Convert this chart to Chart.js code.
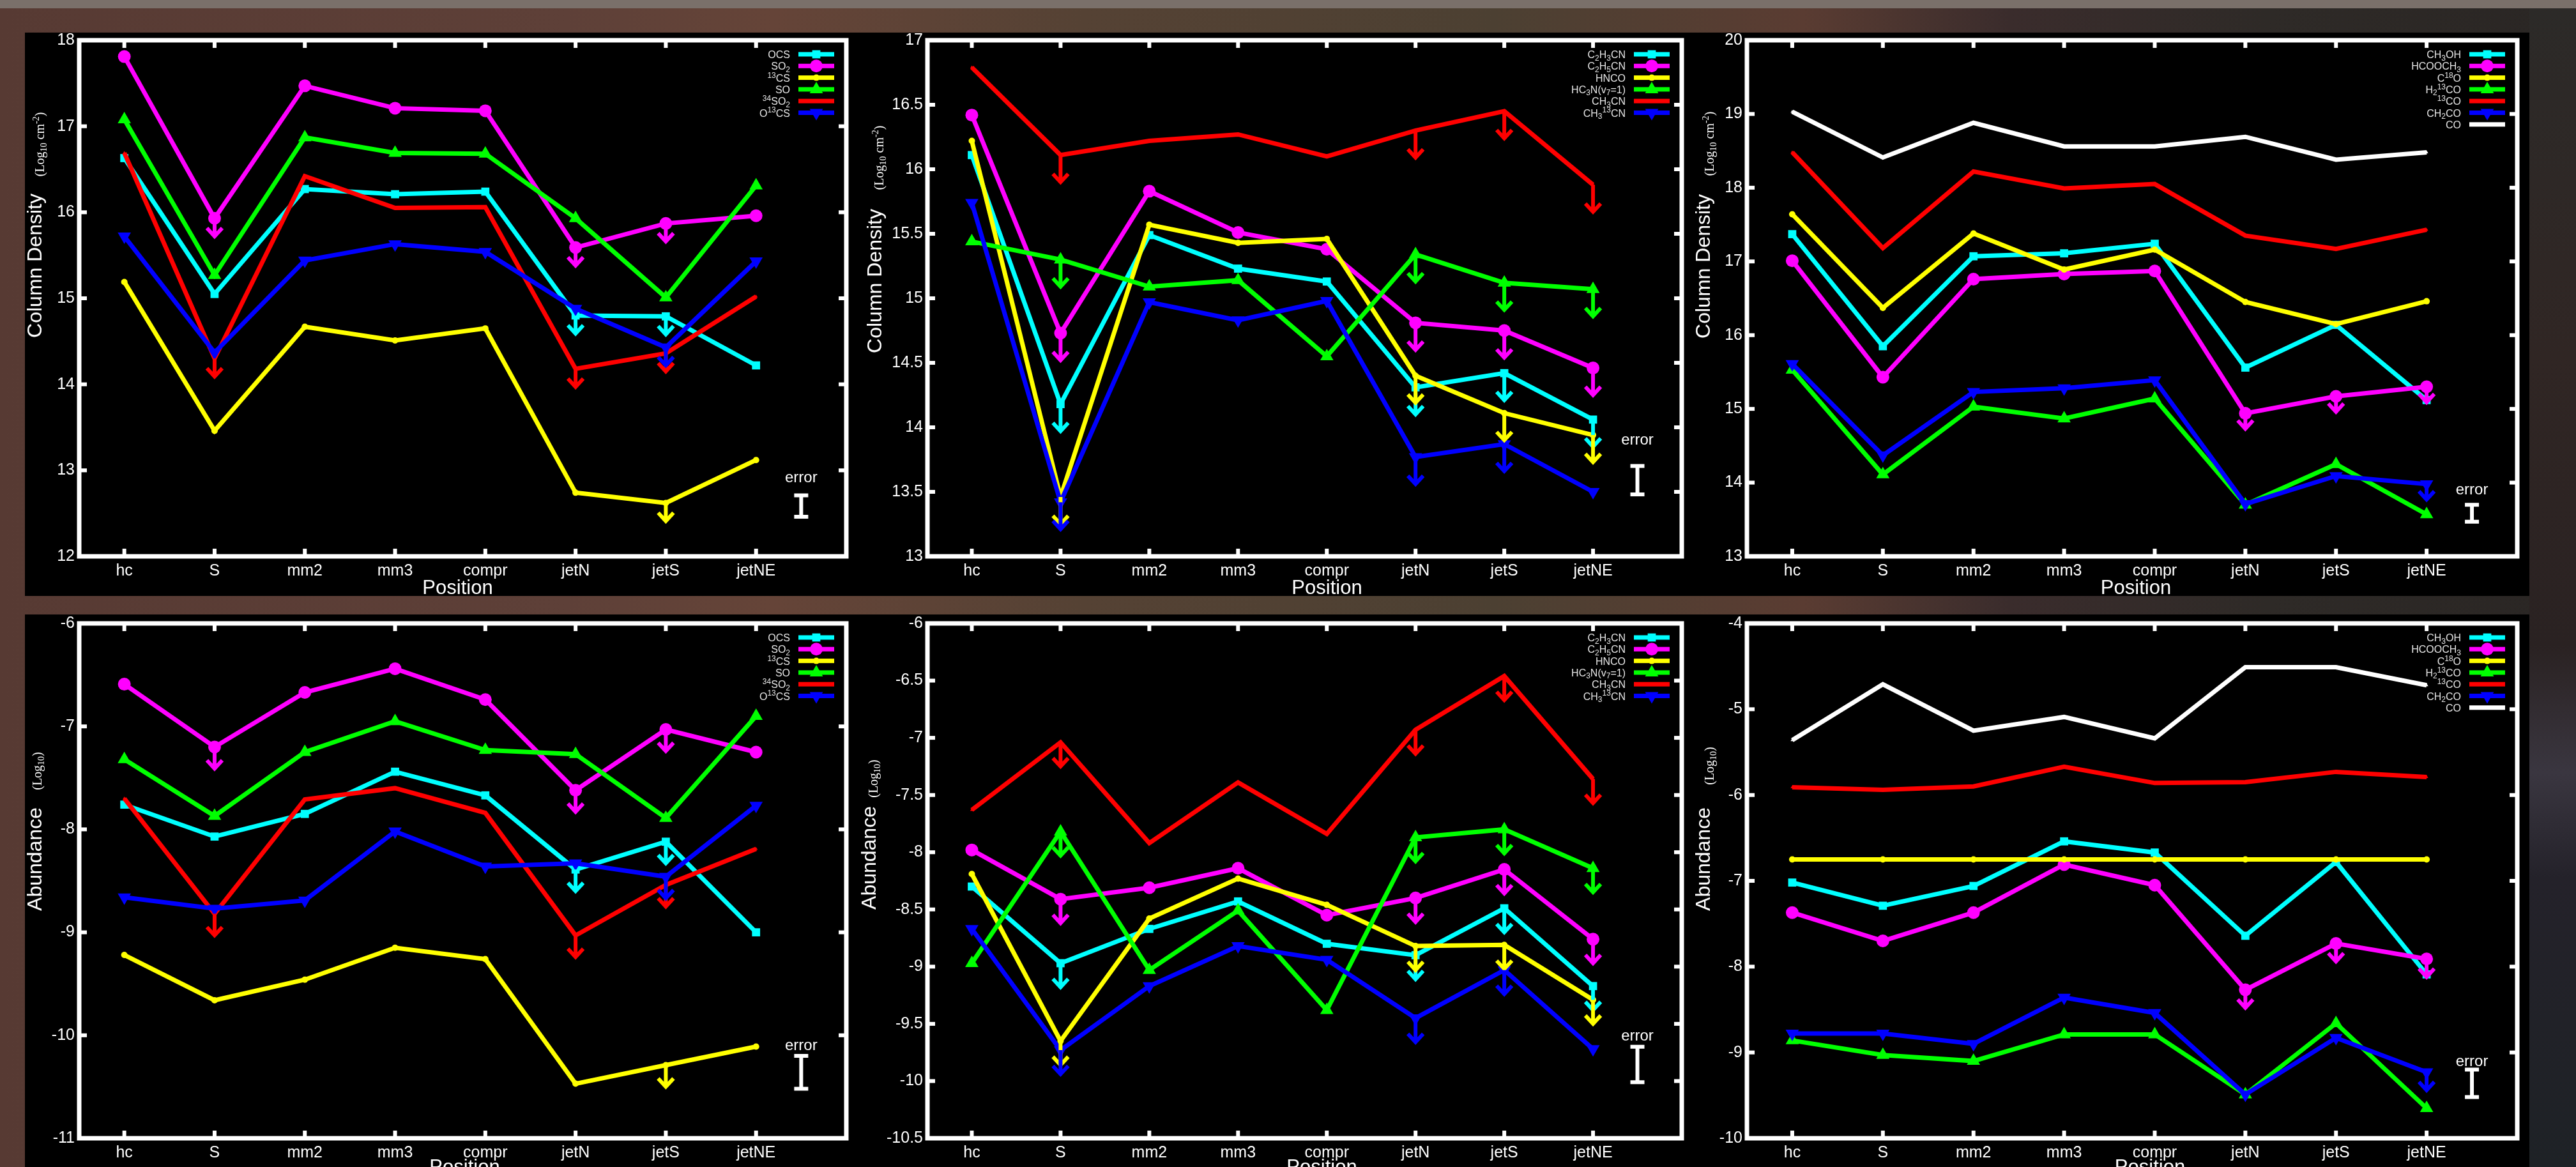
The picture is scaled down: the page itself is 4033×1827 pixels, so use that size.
<!DOCTYPE html>
<html>
<head>
<meta charset="utf-8">
<script src="https://cdn.jsdelivr.net/npm/chart.js"></script>
<style>
  body { margin: 0; width: 4033px; height: 1827px; overflow: hidden; position: relative;
         background: linear-gradient(90deg, #573a33 0%, #5e4038 22%, #654438 30%, #554234 42%, #4c4032 58%, #5a3c32 70%, #3a2c2c 78%, #2e2a27 88%, #2a2624 100%); }
  .strip { position: absolute; left: 0; top: 0; width: 4033px; height: 13px; background: #7a706a; }
  .side { position: absolute; left: 3960px; top: 13px; width: 73px; height: 1814px;
          background: linear-gradient(180deg, #2c2a28 0%, #302624 30%, #2a2222 55%, #3a3640 66%, #24222a 75%, #1e2226 100%); }
  .band { position: absolute; background: #000; }
  canvas { position: absolute; }
</style>
</head>
<body>
<div class="strip"></div>
<div class="side"></div>
<div class="band" style="left:39px;top:51px;width:3921px;height:882px"></div>
<div class="band" style="left:39px;top:962px;width:3921px;height:865px"></div>
<canvas id="c1"></canvas>
<canvas id="c2"></canvas>
<canvas id="c3"></canvas>
<canvas id="c4"></canvas>
<canvas id="c5"></canvas>
<canvas id="c6"></canvas>
<script>
const positions = ['hc', 'S', 'mm2', 'mm3', 'compr', 'jetN', 'jetS', 'jetNE'];

// ---- column densities, sulphur species (log10 cm^-2)
const colOCS   = [16.63, 15.05, 16.27, 16.21, 16.24, 14.80, 14.79, 14.22];
const colSO2   = [17.81, 15.93, 17.47, 17.21, 17.18, 15.59, 15.87, 15.96];
const col13CS  = [15.19, 13.46, 14.67, 14.51, 14.65, 12.74, 12.62, 13.12];
const colSO    = [17.08, 15.27, 16.87, 16.69, 16.68, 15.93, 15.01, 16.31];
const col34SO2 = [16.69, 14.30, 16.42, 16.05, 16.06, 14.18, 14.36, 15.02];
const colO13CS = [15.72, 14.37, 15.44, 15.63, 15.54, 14.88, 14.43, 15.43];
// upper limits (index into positions)
const limColOCS = [5, 6], limColSO2 = [1, 5, 6], limCol13CS = [6], limColSO = [];
const limCol34SO2 = [1, 5, 6], limColO13CS = [6];

// ---- column densities, nitrogen species
const colC2H3CN  = [16.11, 14.18, 15.49, 15.23, 15.13, 14.31, 14.42, 14.06];
const colC2H5CN  = [16.42, 14.73, 15.83, 15.51, 15.38, 14.81, 14.75, 14.46];
const colHNCO    = [16.22, 13.46, 15.57, 15.43, 15.46, 14.40, 14.11, 13.94];
const colHC3N    = [15.44, 15.30, 15.09, 15.14, 14.55, 15.34, 15.12, 15.07];
const colCH3CN   = [16.79, 16.11, 16.22, 16.27, 16.10, 16.30, 16.45, 15.88];
const colCH313CN = [15.74, 13.42, 14.97, 14.83, 14.98, 13.77, 13.87, 13.50];
const limColC2H3CN = [1, 5, 6, 7], limColC2H5CN = [1, 5, 6, 7], limColHNCO = [1, 5, 6, 7];
const limColHC3N = [1, 5, 6, 7], limColCH3CN = [1, 5, 6, 7], limColCH313CN = [1, 5, 6];

// ---- column densities, oxygen species
const colCH3OH   = [17.37, 15.85, 17.07, 17.11, 17.24, 15.56, 16.14, 15.12];
const colHCOOCH3 = [17.01, 15.43, 16.76, 16.83, 16.87, 14.94, 15.17, 15.30];
const colC18O    = [17.64, 16.37, 17.38, 16.89, 17.16, 16.45, 16.15, 16.46];
const colH213CO  = [15.53, 14.11, 15.03, 14.87, 15.14, 13.70, 14.25, 13.57];
const col13CO    = [18.48, 17.18, 18.22, 17.99, 18.05, 17.35, 17.17, 17.43];
const colCH2CO   = [15.61, 14.37, 15.23, 15.28, 15.39, 13.71, 14.09, 13.98];
const colCO      = [19.03, 18.41, 18.88, 18.56, 18.56, 18.69, 18.38, 18.48];
const limColHCOOCH3 = [5, 6, 7], limColCH2CO = [7];

// ---- abundances (log10), sulphur species
const abOCS   = [-7.76, -8.07, -7.85, -7.44, -7.67, -8.39, -8.12, -9.00];
const abSO2   = [-6.59, -7.20, -6.67, -6.44, -6.74, -7.62, -7.03, -7.25];
const ab13CS  = [-9.22, -9.66, -9.46, -9.15, -9.26, -10.47, -10.29, -10.11];
const abSO    = [-7.32, -7.87, -7.25, -6.95, -7.23, -7.27, -7.89, -6.90];
const ab34SO2 = [-7.70, -8.82, -7.71, -7.60, -7.84, -9.03, -8.54, -8.19];
const abO13CS = [-8.66, -8.77, -8.69, -8.02, -8.36, -8.33, -8.46, -7.77];
const limAbOCS = [5, 6], limAbSO2 = [1, 5, 6], limAb13CS = [6], limAbSO = [];
const limAb34SO2 = [1, 5, 6], limAbO13CS = [6];

// ---- abundances, nitrogen species
const abC2H3CN  = [-8.30, -8.97, -8.67, -8.43, -8.80, -8.90, -8.49, -9.17];
const abC2H5CN  = [-7.98, -8.41, -8.31, -8.14, -8.55, -8.40, -8.15, -8.76];
const abHNCO    = [-8.19, -9.65, -8.58, -8.23, -8.46, -8.82, -8.81, -9.29];
const abHC3N    = [-8.97, -7.82, -9.03, -8.51, -9.38, -7.87, -7.80, -8.14];
const abCH3CN   = [-7.63, -7.04, -7.92, -7.39, -7.84, -6.93, -6.46, -7.36];
const abCH313CN = [-8.67, -9.73, -9.17, -8.82, -8.94, -9.45, -9.03, -9.72];
const limAbC2H3CN = [1, 5, 6, 7], limAbC2H5CN = [1, 5, 6, 7], limAbHNCO = [1, 5, 6, 7];
const limAbHC3N = [1, 5, 6, 7], limAbCH3CN = [1, 5, 6, 7], limAbCH313CN = [1, 5, 6];

// ---- abundances, oxygen species
const abCH3OH   = [-7.02, -7.29, -7.06, -6.54, -6.67, -7.64, -6.78, -8.09];
const abHCOOCH3 = [-7.37, -7.70, -7.37, -6.81, -7.05, -8.27, -7.73, -7.91];
const abC18O    = [-6.75, -6.75, -6.75, -6.75, -6.75, -6.75, -6.75, -6.75];
const abH213CO  = [-8.86, -9.03, -9.10, -8.79, -8.79, -9.49, -8.66, -9.65];
const ab13CO    = [-5.91, -5.94, -5.90, -5.67, -5.86, -5.85, -5.73, -5.79];
const abCH2CO   = [-8.78, -8.78, -8.90, -8.36, -8.54, -9.49, -8.83, -9.23];
const abCO      = [-5.36, -4.71, -5.25, -5.09, -5.34, -4.51, -4.51, -4.72];
const limAbHCOOCH3 = [5, 6, 7], limAbCH2CO = [7];

// legend names (_ = subscript, ^ = superscript)
const namesS = ['OCS', 'SO_2', '^{13}CS', 'SO', '^{34}SO_2', 'O^{13}CS'];
const namesN = ['C_2H_3CN', 'C_2H_5CN', 'HNCO', 'HC_3N(v_7=1)', 'CH_3CN', 'CH_3^{13}CN'];
const namesO = ['CH_3OH', 'HCOOCH_3', 'C^{18}O', 'H_2^{13}CO', '^{13}CO', 'CH_2CO', 'CO'];

// typical error bar (low, high) and "error" label height per panel
const errBars = [[12.46, 12.71], [13.48, 13.70], [13.47, 13.70], [-10.52, -10.20], [-10.01, -9.70], [-9.52, -9.20]];
const errLabels = [12.91, 13.90, 13.90, -10.10, -9.61, -9.11];
const errX = 7.5;
const arrowLen = 0.21;

// marker / colour scheme shared by every panel
const sty = [
  { color: '#00ffff', pointStyle: 'rect', radius: 9, rotation: 0 },
  { color: '#ff00ff', pointStyle: 'circle', radius: 10, rotation: 0 },
  { color: '#ffff00', pointStyle: 'circle', radius: 5, rotation: 0 },
  { color: '#00ff00', pointStyle: 'triangle', radius: 12, rotation: 0 },
  { color: '#ff0000', pointStyle: 'triangle', radius: 3, rotation: 0 },
  { color: '#0000ff', pointStyle: 'triangle', radius: 12, rotation: 180 },
  { color: '#ffffff', pointStyle: 'triangle', radius: 3, rotation: 0 }
];

const FONT = '"Liberation Sans", Arial, sans-serif';
const SERIF = '"Liberation Serif", "Times New Roman", serif';

function richParts(str) {
  const parts = [];
  let i = 0;
  while (i < str.length) {
    const c = str[i];
    if (c === '_' || c === '^') {
      let t;
      if (str[i + 1] === '{') {
        const j = str.indexOf('}', i);
        t = str.slice(i + 2, j);
        i = j + 1;
      } else {
        t = str[i + 1];
        i += 2;
      }
      parts.push({ t: t, k: c });
    } else {
      let j = i;
      while (j < str.length && str[j] !== '_' && str[j] !== '^') j++;
      parts.push({ t: str.slice(i, j), k: '' });
      i = j;
    }
  }
  return parts;
}

// draws text with sub/superscripts, y is the baseline
function drawRich(ctx, str, x, y, size, family, align) {
  const parts = richParts(str);
  const fontFor = p => (p.k ? Math.round(size * 0.72) : size) + 'px ' + family;
  let w = 0;
  parts.forEach(p => { ctx.font = fontFor(p); p.w = ctx.measureText(p.t).width; w += p.w; });
  let cx = align === 'right' ? x - w : (align === 'center' ? x - w / 2 : x);
  ctx.textAlign = 'left';
  ctx.textBaseline = 'alphabetic';
  parts.forEach(p => {
    ctx.font = fontFor(p);
    const dy = p.k === '_' ? size * 0.22 : (p.k === '^' ? -size * 0.38 : 0);
    ctx.fillText(p.t, cx, y + dy);
    cx += p.w;
  });
}

function drawMarker(ctx, st, x, y) {
  const r = st.radius;
  ctx.fillStyle = st.color;
  ctx.beginPath();
  if (st.pointStyle === 'circle') {
    ctx.arc(x, y, r, 0, Math.PI * 2);
  } else if (st.pointStyle === 'rect') {
    const s = r * Math.SQRT1_2;
    ctx.rect(x - s, y - s, 2 * s, 2 * s);
  } else {
    let a = st.rotation * Math.PI / 180;
    for (let k = 0; k < 3; k++) {
      const px = x + Math.sin(a) * r, py = y - Math.cos(a) * r;
      if (k === 0) ctx.moveTo(px, py); else ctx.lineTo(px, py);
      a += Math.PI * 2 / 3;
    }
    ctx.closePath();
  }
  ctx.fill();
}

// frame, inward ticks, upper-limit arrows, error bar, legend and axis titles
function panelPlugin(p) {
  return {
    id: 'panel',
    afterDatasetsDraw(chart) {
      const ctx = chart.ctx;
      const xs = chart.scales.x, ys = chart.scales.y;
      const a = chart.chartArea;
      ctx.save();

      // upper-limit arrows
      chart.data.datasets.forEach((ds, i) => {
        ctx.strokeStyle = sty[i].color;
        ctx.lineWidth = 6;
        ctx.lineJoin = 'miter';
        ds.lim.forEach(k => {
          const x = xs.getPixelForValue(k);
          const y0 = ys.getPixelForValue(ds.data[k].y);
          const y1 = ys.getPixelForValue(ds.data[k].y - arrowLen);
          ctx.beginPath();
          ctx.moveTo(x, y0);
          ctx.lineTo(x, y1);
          ctx.moveTo(x - 12, y1 - 13);
          ctx.lineTo(x, y1);
          ctx.lineTo(x + 12, y1 - 13);
          ctx.stroke();
        });
      });

      // white frame with inward ticks
      ctx.strokeStyle = '#fff';
      ctx.lineWidth = 7;
      ctx.strokeRect(a.left, a.top, a.right - a.left, a.bottom - a.top);
      ctx.fillStyle = '#fff';
      xs.ticks.forEach(t => {
        const x = xs.getPixelForValue(t.value);
        ctx.fillRect(x - 3, a.top, 6, 12);
        ctx.fillRect(x - 3, a.bottom - 12, 6, 12);
      });
      ys.ticks.forEach(t => {
        const y = ys.getPixelForValue(t.value);
        ctx.fillRect(a.left, y - 3, 12, 6);
        ctx.fillRect(a.right - 12, y - 3, 12, 6);
      });

      // error bar
      const ex = xs.getPixelForValue(errX);
      const eLo = ys.getPixelForValue(p.err[0]), eHi = ys.getPixelForValue(p.err[1]);
      ctx.strokeStyle = '#fff';
      ctx.lineWidth = 6;
      ctx.beginPath();
      ctx.moveTo(ex, eLo); ctx.lineTo(ex, eHi);
      ctx.moveTo(ex - 11, eLo); ctx.lineTo(ex + 11, eLo);
      ctx.moveTo(ex - 11, eHi); ctx.lineTo(ex + 11, eHi);
      ctx.stroke();
      ctx.font = '24px ' + FONT;
      ctx.textAlign = 'center';
      ctx.textBaseline = 'middle';
      ctx.fillText('error', ex, ys.getPixelForValue(p.errLabel));

      // legend: name right-aligned, line sample with marker
      p.series.forEach((s, i) => {
        const ry = a.top + 22 + i * 18.3;
        ctx.fillStyle = '#e6e6e6';
        drawRich(ctx, s.name, a.right - 88, ry + 6, 16, FONT, 'right');
        ctx.fillStyle = sty[i].color;
        ctx.fillRect(a.right - 75, ry - 3.5, 56, 7);
        drawMarker(ctx, sty[i], a.right - 47, ry);
      });

      // axis titles
      ctx.fillStyle = '#fff';
      ctx.save();
      ctx.translate(a.left + p.ttl[0], a.top + p.ttl[1]);
      ctx.rotate(-Math.PI / 2);
      ctx.font = '32px ' + FONT;
      ctx.textAlign = 'center';
      ctx.textBaseline = 'middle';
      ctx.fillText(p.yTitle, 0, 0);
      ctx.restore();
      ctx.save();
      ctx.translate(a.left + p.unit[0], a.top + p.unit[1]);
      ctx.rotate(-Math.PI / 2);
      drawRich(ctx, p.yUnit, 0, 7, 20, SERIF, 'center');
      ctx.restore();
      ctx.font = '31px ' + FONT;
      ctx.textAlign = 'center';
      ctx.textBaseline = 'middle';
      ctx.fillText('Position', (a.left + a.right) / 2 + p.pos[0], a.bottom + p.pos[1]);

      ctx.restore();
    }
  };
}

function makeChart(id, p) {
  const f = p.frame;
  const padL = 130, padT = 30, padR = 40, padB = 90;
  const cv = document.getElementById(id);
  cv.width = f.r - f.l + padL + padR;
  cv.height = f.b - f.t + padT + padB;
  cv.style.left = (f.l - padL) + 'px';
  cv.style.top = (f.t - padT) + 'px';

  const n = p.series.length;
  const datasets = p.series.map((s, i) => ({
    label: s.name,
    data: s.values.map((v, k) => ({ x: k, y: v })),
    lim: s.lim,
    borderColor: sty[i].color,
    backgroundColor: sty[i].color,
    borderWidth: 7,
    pointStyle: sty[i].pointStyle,
    pointRadius: sty[i].radius,
    pointRotation: sty[i].rotation,
    pointBorderWidth: 0,
    tension: 0,
    order: n - i
  }));

  const tickFont = { family: FONT, size: 25 };
  return new Chart(cv, {
    type: 'line',
    data: { datasets: datasets },
    options: {
      responsive: false,
      animation: false,
      devicePixelRatio: 1,
      layout: { padding: { left: 0, top: padT, right: padR, bottom: 0 } },
      plugins: { legend: { display: false }, tooltip: { enabled: false } },
      scales: {
        x: {
          type: 'linear', min: -0.5, max: 8,
          grid: { display: false, drawTicks: false },
          border: { display: false },
          afterBuildTicks: sc => { sc.ticks = positions.map((_, k) => ({ value: k })); },
          afterFit: sc => { sc.height = padB; },
          ticks: { callback: v => positions[v], color: '#fff', font: tickFont, padding: 8, maxRotation: 0, autoSkip: false }
        },
        y: {
          min: p.yMin, max: p.yMax,
          grid: { display: false, drawTicks: false },
          border: { display: false },
          afterFit: sc => { sc.width = padL; },
          ticks: { stepSize: p.yStep, color: '#fff', font: tickFont, padding: 7,
                   callback: v => String(Number(v.toFixed(2))) }
        }
      }
    },
    plugins: [panelPlugin(p)]
  });
}

function series(names, values, lims) {
  return names.map((nm, i) => ({ name: nm, values: values[i], lim: lims[i] }));
}

const colTitle = 'Column Density', colUnit = '(Log_{10} cm^{-2})';
const abTitle = 'Abundance', abUnit = '(Log_{10})';

makeChart('c1', {
  frame: { l: 124, r: 1325, t: 63, b: 871 }, yMin: 12, yMax: 18, yStep: 1,
  series: series(namesS, [colOCS, colSO2, col13CS, colSO, col34SO2, colO13CS],
    [limColOCS, limColSO2, limCol13CS, limColSO, limCol34SO2, limColO13CS]),
  err: errBars[0], errLabel: errLabels[0],
  yTitle: colTitle, yUnit: colUnit, ttl: [-68, 353], unit: [-62, 163], pos: [-8, 50]
});
makeChart('c2', {
  frame: { l: 1452, r: 2633, t: 63, b: 871 }, yMin: 13, yMax: 17, yStep: 0.5,
  series: series(namesN, [colC2H3CN, colC2H5CN, colHNCO, colHC3N, colCH3CN, colCH313CN],
    [limColC2H3CN, limColC2H5CN, limColHNCO, limColHC3N, limColCH3CN, limColCH313CN]),
  err: errBars[1], errLabel: errLabels[1],
  yTitle: colTitle, yUnit: colUnit, ttl: [-81, 377], unit: [-76, 184], pos: [35, 50]
});
makeChart('c3', {
  frame: { l: 2735, r: 3941, t: 63, b: 871 }, yMin: 13, yMax: 20, yStep: 1,
  series: series(namesO, [colCH3OH, colHCOOCH3, colC18O, colH213CO, col13CO, colCH2CO, colCO],
    [[], limColHCOOCH3, [], [], [], limColCH2CO, []]),
  err: errBars[2], errLabel: errLabels[2],
  yTitle: colTitle, yUnit: colUnit, ttl: [-67, 354], unit: [-59, 162], pos: [6, 50]
});
makeChart('c4', {
  frame: { l: 124, r: 1325, t: 976, b: 1782 }, yMin: -11, yMax: -6, yStep: 1,
  series: series(namesS, [abOCS, abSO2, ab13CS, abSO, ab34SO2, abO13CS],
    [limAbOCS, limAbSO2, limAb13CS, limAbSO, limAb34SO2, limAbO13CS]),
  err: errBars[3], errLabel: errLabels[3],
  yTitle: abTitle, yUnit: abUnit, ttl: [-68, 369], unit: [-66, 231], pos: [3, 46]
});
makeChart('c5', {
  frame: { l: 1452, r: 2633, t: 976, b: 1782 }, yMin: -10.5, yMax: -6, yStep: 0.5,
  series: series(namesN, [abC2H3CN, abC2H5CN, abHNCO, abHC3N, abCH3CN, abCH313CN],
    [limAbC2H3CN, limAbC2H5CN, limAbHNCO, limAbHC3N, limAbCH3CN, limAbCH313CN]),
  err: errBars[4], errLabel: errLabels[4],
  yTitle: abTitle, yUnit: abUnit, ttl: [-90, 367], unit: [-85, 243], pos: [27, 46]
});
makeChart('c6', {
  frame: { l: 2735, r: 3941, t: 976, b: 1782 }, yMin: -10, yMax: -4, yStep: 1,
  series: series(namesO, [abCH3OH, abHCOOCH3, abC18O, abH213CO, ab13CO, abCH2CO, abCO],
    [[], limAbHCOOCH3, [], [], [], limAbCH2CO, []]),
  err: errBars[5], errLabel: errLabels[5],
  yTitle: abTitle, yUnit: abUnit, ttl: [-67, 369], unit: [-59, 223], pos: [28, 46]
});
</script>
</body>
</html>
